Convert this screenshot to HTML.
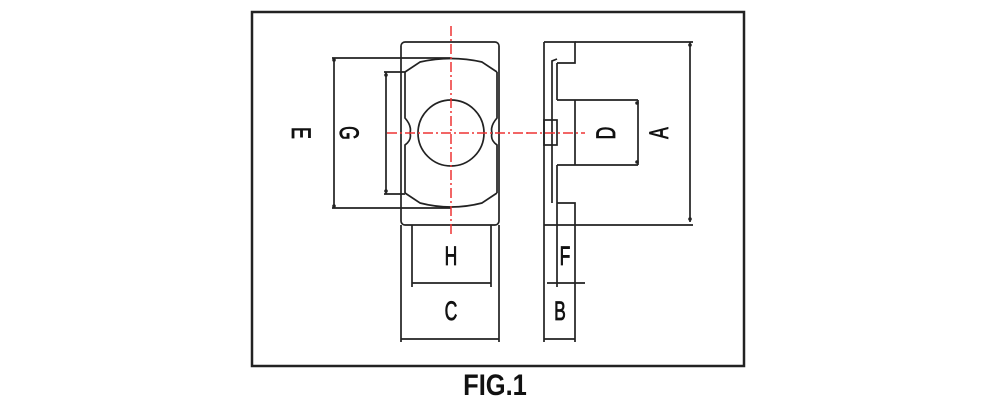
<!DOCTYPE html>
<html><head><style>body{margin:0;background:#fff}svg{display:block}</style></head>
<body>
<svg width="995" height="400" viewBox="0 0 995 400" xmlns="http://www.w3.org/2000/svg" font-family="Liberation Sans, sans-serif">
<rect x="252" y="12" width="492" height="354" fill="none" stroke="#222" stroke-width="2.5"/>
<g fill="none" stroke="#222" stroke-width="1.7">
<rect x="401" y="42" width="98" height="183" rx="4"/>
<path d="M405 72 L405 118 Q412 126 410 133 Q412 140 405 145 L405 193"/>
<path d="M497 72 L497 118 Q490 126 492 133 Q490 140 497 145 L497 193"/>
<path d="M405 72 L420 62 Q451 55 482 62 L497 72"/>
<path d="M405 193 L420 203 Q451 211 482 203 L497 193"/>
<circle cx="451" cy="133" r="33"/>
<path d="M332 58 H451 M332 208 H451 M334 58 V208"/>
<path d="M384 72 H405 M384 194 H405 M386 72 V194"/>
<path d="M412 225 V287 M491 225 V287 M412 283 H491"/>
<path d="M401 225 V342 M499 225 V342 M401 339 H499"/>
<path d="M544 42 V342 M544 42 H575 V63 H557 M552 203 V61 L557 59"/>
<path d="M557 63 V100 M557 165 V203 M557 203 H575 V225"/>
<path d="M557 100 H638 M557 165 H638 M575 100 V165 M638 100 V165"/>
<rect x="544" y="120" width="13" height="25"/>
<path d="M544 225 H693 M575 42 H693 M690 42 V222"/>
<path d="M557 203 V287 M575 225 V342 M547 283 H585 M544 339 H575"/>
</g>
<g fill="#222">
<circle cx="334" cy="60" r="1.8"/><circle cx="334" cy="206" r="1.8"/>
<circle cx="386" cy="75" r="1.8"/><circle cx="386" cy="191" r="1.8"/>
<circle cx="690" cy="45" r="1.8"/><circle cx="690" cy="219" r="1.8"/>
<circle cx="637" cy="103" r="1.8"/><circle cx="637" cy="162" r="1.8"/>
</g>
<g stroke="#e33" stroke-width="1.5" stroke-dasharray="10 3 2 3" fill="none">
<path d="M451 26 V234"/>
<path d="M387 133 H530"/>
<path d="M527 133 H585"/>
</g>
<g font-size="27" fill="#111" stroke="#111" stroke-width="0.8" text-anchor="middle">
<text transform="translate(302,133) rotate(90) scale(0.65,1)" dy="10">E</text>
<text transform="translate(350,133) rotate(90) scale(0.65,1)" dy="10">G</text>
<text transform="translate(605,133) rotate(-90) scale(0.65,1)" dy="10">D</text>
<text transform="translate(658,133) rotate(-90) scale(0.65,1)" dy="10">A</text>
<text transform="translate(451,265) scale(0.65,1)">H</text>
<text transform="translate(451,320) scale(0.65,1)">C</text>
<text transform="translate(565,265) scale(0.65,1)">F</text>
<text transform="translate(560,320) scale(0.65,1)">B</text>
</g>
<text transform="translate(495,395) scale(0.85,1)" font-size="30" font-weight="bold" text-anchor="middle" fill="#111">FIG.1</text>
</svg>
</body></html>
